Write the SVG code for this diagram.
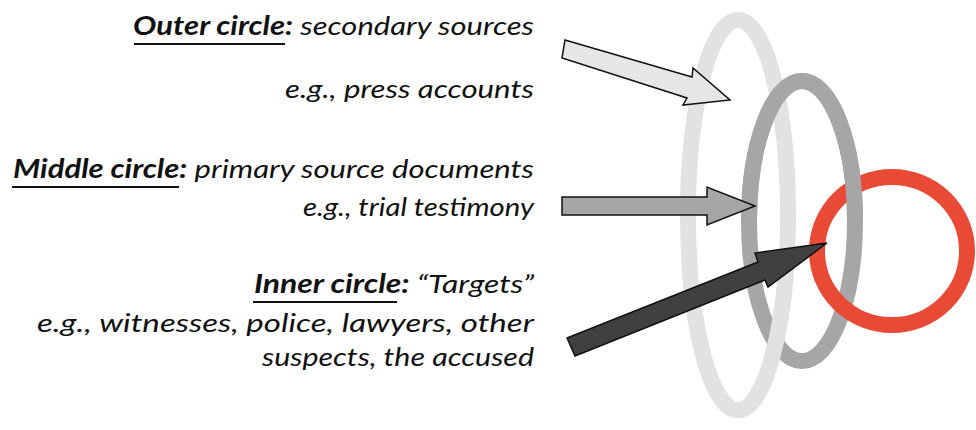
<svg xmlns="http://www.w3.org/2000/svg" width="976" height="430" viewBox="0 0 976 430">
<style>
  .t { font-family: "Lato", "Open Sans", "Liberation Sans", sans-serif; font-size: 26px; font-style: italic; fill: #111; }
  .b { font-weight: bold; }
  .ul { stroke: #111; stroke-width: 2; }
  .ring { fill: none; stroke-width: 16; }
  .arrow { stroke: #111; stroke-width: 1.5; stroke-linejoin: miter; }
</style>
<defs>
  <clipPath id="clipTop"><rect x="0" y="0" width="976" height="225"/></clipPath>
  <clipPath id="clipBottom"><rect x="0" y="290" width="976" height="140"/></clipPath>
</defs>
<rect width="976" height="430" fill="#ffffff"/>

<g id="rings">
  <g id="outer-circle">
    <ellipse class="ring" cx="738" cy="215" rx="50" ry="195" stroke="#e2e2e2"/>
  </g>
  <g id="middle-circle">
    <ellipse class="ring" cx="802" cy="221" rx="53" ry="140" stroke="#a6a6a6"/>
  </g>
  <g id="inner-circle">
    <ellipse class="ring" cx="892" cy="251" rx="75" ry="74" stroke="#e84a36"/>
  </g>
  <ellipse class="ring" cx="802" cy="221" rx="53" ry="140" stroke="#a6a6a6" clip-path="url(#clipTop)"/>
  <ellipse class="ring" cx="738" cy="215" rx="50" ry="195" stroke="#e2e2e2" clip-path="url(#clipBottom)"/>
</g>

<g id="connectors">
  <polygon class="arrow" fill="#e6e6e6" points="565,40 692,77 693,68 730,100 683,105 687,98 562,58"/>
  <polygon class="arrow" fill="#a6a6a6" points="562,197 707,197 707,187 755,206 707,225 707,215 562,215"/>
  <polygon class="arrow" fill="#404040" points="567,338 758,262 755,253 827,243 768,287 765,280 575,356"/>
</g>

<g id="label-outer">
  <text class="t" x="534" y="35" text-anchor="end" textLength="401" lengthAdjust="spacingAndGlyphs"><tspan class="b">Outer circle:</tspan> secondary sources</text>
  <line class="ul" x1="134" y1="44" x2="285" y2="44"/>
  <text class="t" x="534" y="98" text-anchor="end" textLength="249" lengthAdjust="spacingAndGlyphs">e.g., press accounts</text>
</g>

<g id="label-middle">
  <text class="t" x="534" y="178" text-anchor="end" textLength="521" lengthAdjust="spacingAndGlyphs"><tspan class="b">Middle circle:</tspan> primary source documents</text>
  <line class="ul" x1="12" y1="187" x2="179" y2="187"/>
  <text class="t" x="534" y="216" text-anchor="end" textLength="231" lengthAdjust="spacingAndGlyphs">e.g., trial testimony</text>
</g>

<g id="label-inner">
  <text class="t" x="534" y="293" text-anchor="end" textLength="280" lengthAdjust="spacingAndGlyphs"><tspan class="b">Inner circle:</tspan> “Targets”</text>
  <line class="ul" x1="253" y1="302" x2="397" y2="302"/>
  <text class="t" x="534" y="332" text-anchor="end" textLength="497" lengthAdjust="spacingAndGlyphs">e.g., witnesses, police, lawyers, other</text>
  <text class="t" x="534" y="366" text-anchor="end" textLength="272" lengthAdjust="spacingAndGlyphs">suspects, the accused</text>
</g>
</svg>
